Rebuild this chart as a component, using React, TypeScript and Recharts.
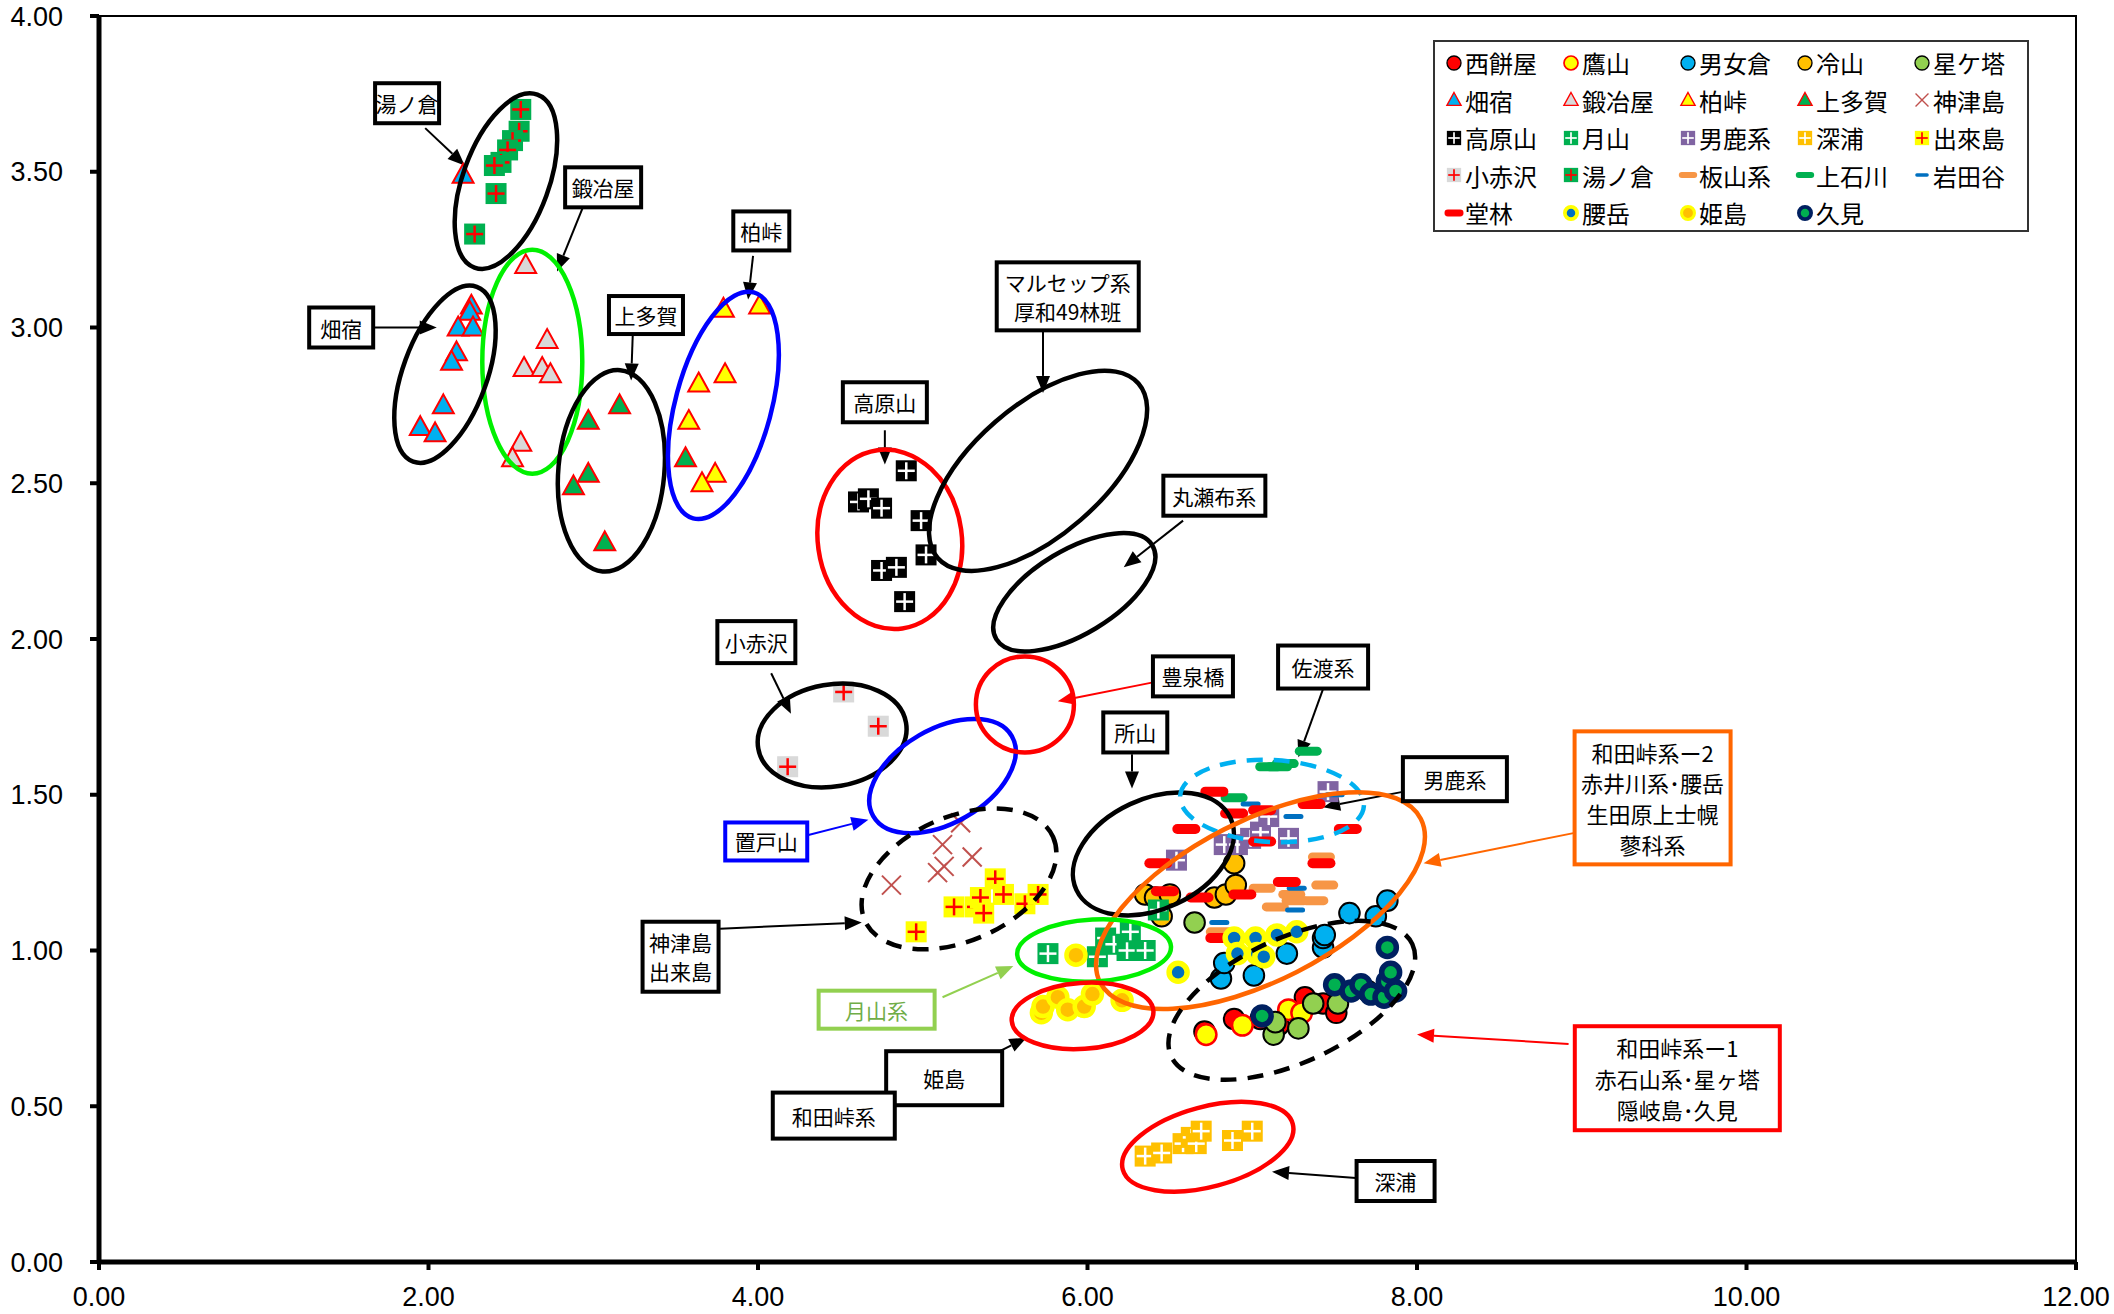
import React from 'react';
import {
  ScatterChart, Scatter, XAxis, YAxis, ReferenceDot, ReferenceLine,
  ReferenceArea, Legend,
} from 'recharts';

// 軸の目盛
const X_TICKS = [0, 2, 4, 6, 8, 10, 12];
const Y_TICKS = [0, 0.5, 1, 1.5, 2, 2.5, 3, 3.5, 4];

// 産地ごとの測定値 [x, y]
const NISHIMOCHIYA: [number, number][] = [[6.71, 0.74], [6.89, 0.78], [7.05, 0.78], [7.16, 0.76], [7.32, 0.85], [7.43, 0.83], [7.51, 0.80], [7.70, 0.87]];
const TAKAYAMA: [number, number][] = [[6.72, 0.73], [6.94, 0.76], [7.22, 0.81], [7.30, 0.80]];
const OTOMEKURA: [number, number][] = [[6.81, 0.91], [6.83, 0.96], [7.01, 0.92], [7.21, 0.99], [7.43, 1.01], [7.43, 1.04], [7.44, 1.05], [7.59, 1.12], [7.75, 1.11], [7.82, 1.16]];
const REIZAN: [number, number][] = [[6.35, 1.18], [6.41, 1.17], [6.45, 1.11], [6.50, 1.18], [6.77, 1.17], [6.84, 1.18], [6.90, 1.21], [6.89, 1.28]];
const HOSHIGATO: [number, number][] = [[6.65, 1.09], [7.13, 0.73], [7.14, 0.77], [7.28, 0.75], [7.37, 0.83], [7.52, 0.83]];
const HATAJUKU: [number, number][] = [[2.21, 3.49], [2.26, 3.07], [2.25, 3.05], [2.18, 3.00], [2.27, 3.00], [2.17, 2.92], [2.14, 2.89], [2.09, 2.75], [1.95, 2.68], [2.04, 2.66]];
const KAJIYA: [number, number][] = [[2.59, 3.20], [2.72, 2.96], [2.58, 2.87], [2.69, 2.87], [2.74, 2.85], [2.56, 2.63], [2.51, 2.58]];
const KASHIWATOGE: [number, number][] = [[3.79, 3.06], [4.01, 3.07], [3.80, 2.85], [3.64, 2.82], [3.58, 2.70], [3.74, 2.53], [3.66, 2.50]];
const KAMITAGA: [number, number][] = [[3.16, 2.75], [2.97, 2.70], [2.97, 2.53], [2.88, 2.49], [3.07, 2.31], [3.56, 2.58]];
const KOZUSHIMA: [number, number][] = [[5.23, 1.41], [5.12, 1.34], [5.30, 1.30], [5.13, 1.27], [5.09, 1.25], [4.81, 1.21]];
const TAKAHARAYAMA: [number, number][] = [[4.90, 2.54], [4.61, 2.44], [4.67, 2.45], [4.75, 2.42], [4.99, 2.38], [5.02, 2.27], [4.75, 2.22], [4.84, 2.23], [4.89, 2.12]];
const GASSAN: [number, number][] = [[5.76, 0.99], [6.06, 0.98], [6.11, 1.04], [6.16, 1.02], [6.24, 1.00], [6.26, 1.06], [6.35, 1.00], [6.43, 1.13]];
const OGA: [number, number][] = [[6.54, 1.29], [6.83, 1.34], [6.91, 1.34], [6.99, 1.36], [7.05, 1.38], [7.10, 1.43], [7.22, 1.36], [7.46, 1.51]];
const FUKAURA: [number, number][] = [[6.35, 0.34], [6.45, 0.35], [6.58, 0.38], [6.63, 0.40], [6.66, 0.38], [6.69, 0.42], [6.88, 0.39], [7.00, 0.42]];
const DEKIJIMA: [number, number][] = [[4.96, 1.06], [5.19, 1.14], [5.32, 1.14], [5.35, 1.17], [5.37, 1.12], [5.44, 1.23], [5.49, 1.18], [5.62, 1.15], [5.70, 1.18]];
const KOAKAZAWA: [number, number][] = [[4.52, 1.83], [4.73, 1.72], [4.18, 1.59]];
const YUNOKURA: [number, number][] = [[2.56, 3.70], [2.55, 3.63], [2.51, 3.60], [2.48, 3.57], [2.44, 3.53], [2.40, 3.52], [2.41, 3.43], [2.28, 3.30]];
const ITAYAMA: [number, number][] = [[6.80, 1.06], [7.06, 1.20], [7.14, 1.14], [7.24, 1.18], [7.26, 1.16], [7.38, 1.16], [7.44, 1.21], [7.42, 1.30]];
const KAMIISHIKAWA: [number, number][] = [[7.34, 1.64], [7.20, 1.60], [7.16, 1.59], [7.10, 1.59], [6.89, 1.49]];
const IWATAYA: [number, number][] = [[6.99, 1.47], [7.25, 1.43], [7.50, 1.50], [7.27, 1.20], [7.26, 1.13], [6.80, 1.09]];
const DOURIN: [number, number][] = [[6.77, 1.51], [6.89, 1.44], [7.06, 1.45], [6.60, 1.39], [7.06, 1.35], [7.36, 1.47], [7.58, 1.39], [6.43, 1.28], [6.47, 1.19], [6.68, 1.17], [6.94, 1.18], [7.21, 1.22], [7.42, 1.28], [6.80, 1.04]];
const KOSHIDAKE: [number, number][] = [[6.55, 0.93], [6.89, 1.04], [7.02, 1.04], [7.15, 1.05], [7.27, 1.06], [6.91, 0.99], [7.03, 0.99], [7.07, 0.98]];
const HIMEJIMA: [number, number][] = [[5.93, 0.985], [5.72, 0.80], [5.73, 0.82], [5.82, 0.85], [5.88, 0.81], [5.98, 0.82], [6.03, 0.86], [6.21, 0.84]];
const KUMI: [number, number][] = [[7.06, 0.79], [7.50, 0.89], [7.60, 0.87], [7.66, 0.89], [7.72, 0.86], [7.80, 0.85], [7.82, 0.90], [7.84, 0.93], [7.87, 0.87], [7.82, 1.01]];

type Mk =
  | { kind: 'circle'; fill: string; stroke: string; sw: number; r: number }
  | { kind: 'tri'; fill: string }
  | { kind: 'x'; color: string }
  | { kind: 'sq'; fill: string; cross: string }
  | { kind: 'dash'; fill: string; w: number; h: number };

const circ = (fill: string, stroke = '#000', sw = 2, r = 10.3): Mk => ({ kind: 'circle', fill, stroke, sw, r });
const tri = (fill: string): Mk => ({ kind: 'tri', fill });
const sq = (fill: string, cross = '#FFFFFF'): Mk => ({ kind: 'sq', fill, cross });
const dash = (fill: string, w = 27, h = 9): Mk => ({ kind: 'dash', fill, w, h });

const SERIES: { name: string; data: [number, number][]; mk: Mk }[] = [
  { name: '西餅屋', data: NISHIMOCHIYA, mk: circ('#FF0000') },
  { name: '鷹山', data: TAKAYAMA, mk: circ('#FFFF00', '#FF0000', 2.5) },
  { name: '男女倉', data: OTOMEKURA, mk: circ('#00B0F0') },
  { name: '冷山', data: REIZAN, mk: circ('#FFC000') },
  { name: '星ケ塔', data: HOSHIGATO, mk: circ('#92D050') },
  { name: '畑宿', data: HATAJUKU, mk: tri('#00B0F0') },
  { name: '鍛冶屋', data: KAJIYA, mk: tri('#D9D9D9') },
  { name: '柏峠', data: KASHIWATOGE, mk: tri('#FFFF00') },
  { name: '上多賀', data: KAMITAGA, mk: tri('#00B050') },
  { name: '神津島', data: KOZUSHIMA, mk: { kind: 'x', color: '#C0504D' } },
  { name: '高原山', data: TAKAHARAYAMA, mk: sq('#000000') },
  { name: '月山', data: GASSAN, mk: sq('#00B050') },
  { name: '男鹿系', data: OGA, mk: sq('#8064A2') },
  { name: '深浦', data: FUKAURA, mk: sq('#FFC000') },
  { name: '出來島', data: DEKIJIMA, mk: sq('#FFFF00', '#FF0000') },
  { name: '小赤沢', data: KOAKAZAWA, mk: sq('#D9D9D9', '#FF0000') },
  { name: '湯ノ倉', data: YUNOKURA, mk: sq('#00B050', '#FF0000') },
  { name: '板山系', data: ITAYAMA, mk: dash('#F79646') },
  { name: '上石川', data: KAMIISHIKAWA, mk: dash('#00B050') },
  { name: '岩田谷', data: IWATAYA, mk: dash('#0070C0', 20, 5) },
  { name: '堂林', data: DOURIN, mk: dash('#FF0000', 28, 10) },
  { name: '腰岳', data: KOSHIDAKE, mk: circ('#0070C0', '#FFFF00', 5.5, 9) },
  { name: '姫島', data: HIMEJIMA, mk: circ('#FFC000', '#FFFF00', 4.5, 9.5) },
  { name: '久見', data: KUMI, mk: circ('#00B050', '#002060', 5.5, 9) },
];

function drawMarker(m: Mk, cx: number, cy: number, s = 1) {
  switch (m.kind) {
    case 'circle':
      return <circle cx={cx} cy={cy} r={m.r * s} fill={m.fill} stroke={m.stroke} strokeWidth={m.sw * s} />;
    case 'tri': {
      const a = 11 * s;
      return (
        <polygon
          points={`${cx},${cy - a} ${cx + a * 0.95},${cy + a * 0.72} ${cx - a * 0.95},${cy + a * 0.72}`}
          fill={m.fill} stroke="#FF0000" strokeWidth={2 * s}
        />
      );
    }
    case 'x': {
      const a = 9.5 * s;
      return (
        <g stroke={m.color} strokeWidth={2 * s}>
          <line x1={cx - a} y1={cy - a} x2={cx + a} y2={cy + a} />
          <line x1={cx - a} y1={cy + a} x2={cx + a} y2={cy - a} />
        </g>
      );
    }
    case 'sq': {
      const h = 10.5 * s;
      const c = 8.5 * s;
      return (
        <g>
          <rect x={cx - h} y={cy - h} width={2 * h} height={2 * h} fill={m.fill} />
          <line x1={cx - c} y1={cy} x2={cx + c} y2={cy} stroke={m.cross} strokeWidth={2.5 * s} />
          <line x1={cx} y1={cy - c} x2={cx} y2={cy + c} stroke={m.cross} strokeWidth={2.5 * s} />
        </g>
      );
    }
    case 'dash':
      return (
        <rect x={cx - (m.w * s) / 2} y={cy - (m.h * s) / 2} width={m.w * s} height={m.h * s}
          rx={(m.h * s) / 2} fill={m.fill} />
      );
  }
}

// 楕円 (中心はデータ座標、半径は画素)
const ELLIPSES = [
  { x: 2.47, y: 3.47, rx: 43, ry: 92, a: 20, color: '#000', dash: false },
  { x: 2.63, y: 2.89, rx: 50, ry: 112, a: 0, color: '#00F000', dash: false },
  { x: 2.10, y: 2.85, rx: 42, ry: 93, a: 20, color: '#000', dash: false },
  { x: 3.11, y: 2.54, rx: 53, ry: 101, a: 5, color: '#000', dash: false },
  { x: 3.79, y: 2.75, rx: 48, ry: 117, a: 15, color: '#0000FF', dash: false },
  { x: 4.80, y: 2.32, rx: 72, ry: 90, a: -8, color: '#FF0000', dash: false },
  { x: 5.70, y: 2.54, rx: 133, ry: 65, a: -41, color: '#000', dash: false },
  { x: 5.92, y: 2.15, rx: 91, ry: 42, a: -31, color: '#000', dash: false },
  { x: 4.45, y: 1.69, rx: 75, ry: 51, a: -10, color: '#000', dash: false },
  { x: 5.12, y: 1.56, rx: 80, ry: 47, a: -30, color: '#0000FF', dash: false },
  { x: 5.62, y: 1.79, rx: 49, ry: 48, a: 0, color: '#FF0000', dash: false },
  { x: 5.22, y: 1.23, rx: 103, ry: 62, a: -24, color: '#000', dash: true },
  { x: 6.40, y: 1.31, rx: 85, ry: 55, a: -25, color: '#000', dash: false },
  { x: 7.12, y: 1.48, rx: 92, ry: 41, a: 3, color: '#00B0F0', dash: true },
  { x: 7.05, y: 1.16, rx: 180, ry: 80, a: -27, color: '#FF6600', dash: false },
  { x: 6.04, y: 1.00, rx: 77, ry: 31, a: -3, color: '#00F000', dash: false },
  { x: 5.97, y: 0.79, rx: 71, ry: 33, a: -4, color: '#FF0000', dash: false },
  { x: 7.24, y: 0.84, rx: 133, ry: 62, a: -25, color: '#000', dash: true },
  { x: 6.73, y: 0.37, rx: 88, ry: 40, a: -15, color: '#FF0000', dash: false },
];

// 矢印 (データ座標)
const ARROWS = [
  { x1: 1.98, y1: 3.64, x2: 2.22, y2: 3.52, color: '#000' },
  { x1: 2.94, y1: 3.39, x2: 2.78, y2: 3.18, color: '#000' },
  { x1: 3.97, y1: 3.23, x2: 3.94, y2: 3.09, color: '#000' },
  { x1: 1.67, y1: 3.00, x2: 2.05, y2: 3.00, color: '#000' },
  { x1: 3.24, y1: 2.98, x2: 3.23, y2: 2.83, color: '#000' },
  { x1: 5.73, y1: 3.01, x2: 5.73, y2: 2.79, color: '#000' },
  { x1: 4.77, y1: 2.67, x2: 4.77, y2: 2.56, color: '#000' },
  { x1: 6.58, y1: 2.38, x2: 6.22, y2: 2.23, color: '#000' },
  { x1: 4.08, y1: 1.89, x2: 4.20, y2: 1.76, color: '#000' },
  { x1: 6.39, y1: 1.86, x2: 5.82, y2: 1.80, color: '#FF0000' },
  { x1: 7.43, y1: 1.84, x2: 7.28, y2: 1.62, color: '#000' },
  { x1: 6.27, y1: 1.63, x2: 6.27, y2: 1.52, color: '#000' },
  { x1: 7.92, y1: 1.51, x2: 7.43, y2: 1.46, color: '#000' },
  { x1: 4.30, y1: 1.37, x2: 4.67, y2: 1.42, color: '#0000FF' },
  { x1: 3.77, y1: 1.07, x2: 4.63, y2: 1.09, color: '#000' },
  { x1: 5.12, y1: 0.85, x2: 5.55, y2: 0.95, color: '#92D050' },
  { x1: 5.29, y1: 0.63, x2: 5.63, y2: 0.72, color: '#000' },
  { x1: 7.63, y1: 0.27, x2: 7.12, y2: 0.29, color: '#000' },
  { x1: 8.98, y1: 1.38, x2: 8.04, y2: 1.28, color: '#FF6600' },
  { x1: 8.92, y1: 0.70, x2: 8.00, y2: 0.73, color: '#FF0000' },
];

// 注記ボックス
const LABELS = [
  { lines: ['湯ノ倉'], x: 1.87, y: 3.72, w: 64, h: 40 },
  { lines: ['鍛冶屋'], x: 3.06, y: 3.45, w: 76, h: 40 },
  { lines: ['柏峠'], x: 4.02, y: 3.31, w: 56, h: 39 },
  { lines: ['畑宿'], x: 1.47, y: 3.00, w: 64, h: 40 },
  { lines: ['上多賀'], x: 3.32, y: 3.04, w: 74, h: 38 },
  { lines: ['マルセップ系', '厚和49林班'], x: 5.88, y: 3.10, w: 142, h: 68 },
  { lines: ['高原山'], x: 4.77, y: 2.76, w: 84, h: 40 },
  { lines: ['丸瀬布系'], x: 6.77, y: 2.46, w: 102, h: 40 },
  { lines: ['小赤沢'], x: 3.99, y: 1.99, w: 78, h: 42 },
  { lines: ['豊泉橋'], x: 6.64, y: 1.88, w: 80, h: 40 },
  { lines: ['佐渡系'], x: 7.43, y: 1.91, w: 90, h: 43 },
  { lines: ['所山'], x: 6.29, y: 1.70, w: 64, h: 40 },
  { lines: ['男鹿系'], x: 8.23, y: 1.55, w: 104, h: 44 },
  { lines: ['置戸山'], x: 4.05, y: 1.35, w: 82, h: 38, border: '#0000FF' },
  { lines: ['神津島', '出来島'], x: 3.53, y: 0.98, w: 76, h: 70 },
  { lines: ['月山系'], x: 4.72, y: 0.81, w: 116, h: 38, border: '#92D050', color: '#70AD47' },
  { lines: ['姫島'], x: 5.13, y: 0.59, w: 116, h: 54 },
  { lines: ['和田峠系'], x: 4.46, y: 0.47, w: 122, h: 46 },
  { lines: ['深浦'], x: 7.87, y: 0.26, w: 78, h: 40 },
  { lines: ['和田峠系ー2', '赤井川系･腰岳', '生田原上士幌', '蓼科系'], x: 9.43, y: 1.49, w: 156, h: 133, border: '#FF6600', fs: 22 },
  { lines: ['和田峠系ー1', '赤石山系･星ヶ塔', '隠岐島･久見'], x: 9.58, y: 0.59, w: 205, h: 104, border: '#FF0000', fs: 22 },
];

const JP_FONT = "'Noto Sans CJK JP', 'Noto Sans CJK SC', sans-serif";

const ellipseShape = (e: (typeof ELLIPSES)[number]) => (p: any) => (
  <ellipse
    cx={p.cx} cy={p.cy} rx={e.rx} ry={e.ry}
    transform={`rotate(${e.a} ${p.cx} ${p.cy})`}
    fill="none" stroke={e.color} strokeWidth={4.5}
    strokeDasharray={e.dash ? '16 11' : undefined}
  />
);

const arrowShape = (color: string) => (p: any) => {
  const x1 = Number(p.x1), y1 = Number(p.y1), x2 = Number(p.x2), y2 = Number(p.y2);
  const ang = Math.atan2(y2 - y1, x2 - x1);
  const L = 17, W = 7;
  const bx = x2 - L * Math.cos(ang);
  const by = y2 - L * Math.sin(ang);
  const px = -Math.sin(ang) * W;
  const py = Math.cos(ang) * W;
  return (
    <g>
      <line x1={x1} y1={y1} x2={bx} y2={by} stroke={color} strokeWidth={2} />
      <polygon points={`${x2},${y2} ${bx + px},${by + py} ${bx - px},${by - py}`} fill={color} />
    </g>
  );
};

const labelShape = (b: (typeof LABELS)[number]) => (p: any) => {
  const fs = (b as any).fs ?? 21;
  const lh = fs * 1.4;
  const y0 = p.cy - ((b.lines.length - 1) * lh) / 2;
  return (
    <g>
      <rect x={p.cx - b.w / 2} y={p.cy - b.h / 2} width={b.w} height={b.h}
        fill="#FFFFFF" stroke={(b as any).border ?? '#000'} strokeWidth={4} />
      <text textAnchor="middle" fontSize={fs} fontFamily={JP_FONT} fill={(b as any).color ?? '#000'}>
        {b.lines.map((t, i) => (
          <tspan key={i} x={p.cx} y={y0 + i * lh} dominantBaseline="central">{t}</tspan>
        ))}
      </text>
    </g>
  );
};

function LegendBox() {
  return (
    <div
      style={{
        border: '2px solid #333', background: '#fff', boxSizing: 'border-box',
        width: 596, height: 192, padding: '2px 0 0 8px',
        display: 'grid', gridTemplateColumns: 'repeat(5, 117px)', gridAutoRows: 37.5,
        fontFamily: JP_FONT, fontSize: 24, color: '#000',
      }}
    >
      {SERIES.map(s => (
        <div key={s.name} style={{ display: 'flex', alignItems: 'center' }}>
          <svg width={22} height={22} style={{ flex: 'none' }}>{drawMarker(s.mk, 11, 11, 0.68)}</svg>
          <span style={{ marginLeft: 0, whiteSpace: 'nowrap' }}>{s.name}</span>
        </div>
      ))}
    </div>
  );
}

export default function App() {
  const tickStyle = { fontSize: 27, fill: '#000', fontFamily: "'Liberation Sans', Arial, sans-serif" };
  return (
    <div style={{ position: 'absolute', left: 0, top: 0, width: 2114, height: 1314, background: '#fff' }}>
      <ScatterChart width={2114} height={1314} margin={{ top: 16, right: 38, bottom: 0, left: 0 }}>
        <XAxis
          type="number" dataKey="x" domain={[0, 12]} ticks={X_TICKS}
          tickFormatter={(v: number) => v.toFixed(2)} height={52}
          axisLine={{ stroke: '#000', strokeWidth: 5 }}
          tickLine={{ stroke: '#000', strokeWidth: 4 }} tickSize={8} tickMargin={17}
          tick={tickStyle} allowDataOverflow
        />
        <YAxis
          type="number" dataKey="y" domain={[0, 4]} ticks={Y_TICKS}
          tickFormatter={(v: number) => v.toFixed(2)} width={99}
          axisLine={{ stroke: '#000', strokeWidth: 5 }}
          tickLine={{ stroke: '#000', strokeWidth: 4 }} tickSize={9} tickMargin={27}
          tick={tickStyle} allowDataOverflow
        />
        <ReferenceArea x1={0} x2={12} y1={0} y2={4} fill="none" stroke="#000" strokeWidth={2} ifOverflow="visible" />
        {SERIES.map(s => (
          <Scatter
            key={s.name}
            name={s.name}
            data={s.data.map(([x, y]) => ({ x, y }))}
            isAnimationActive={false}
            shape={(p: any) => drawMarker(s.mk, p.cx, p.cy)}
          />
        ))}
        {ELLIPSES.map((e, i) => (
          <ReferenceDot key={`e${i}`} x={e.x} y={e.y} r={1} ifOverflow="visible" shape={ellipseShape(e)} />
        ))}
        {ARROWS.map((a, i) => (
          <ReferenceLine
            key={`a${i}`}
            segment={[{ x: a.x1, y: a.y1 }, { x: a.x2, y: a.y2 }]}
            ifOverflow="visible"
            shape={arrowShape(a.color)}
          />
        ))}
        {LABELS.map((b, i) => (
          <ReferenceDot key={`l${i}`} x={b.x} y={b.y} r={1} ifOverflow="visible" shape={labelShape(b)} />
        ))}
        <Legend
          layout="horizontal" verticalAlign="middle" align="center"
          wrapperStyle={{ left: 1433, top: 40, width: 596, height: 192 }}
          content={() => <LegendBox />}
        />
      </ScatterChart>
    </div>
  );
}
